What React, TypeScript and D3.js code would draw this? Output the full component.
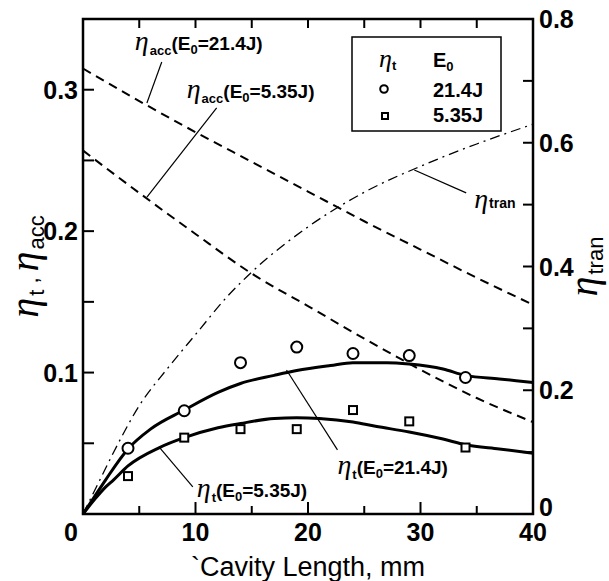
import React from 'react';
import * as d3 from 'd3';

const W = 609;
const H = 581;
const margin = { top: 19, right: 75, bottom: 67, left: 83 };

// measured points, eta_t
const circleX = [4, 9, 14, 19, 24, 29, 34];
const circleY = [0.0465, 0.073, 0.107, 0.118, 0.1135, 0.112, 0.0965];
const squareX = [4, 9, 14, 19, 24, 29, 34];
const squareY = [0.0268, 0.054, 0.06, 0.06, 0.0735, 0.0655, 0.047];

// fitted eta_t curves
const fitHiX = [0, 1, 2, 4, 6, 9, 12, 14, 17, 19, 22, 24, 27, 29, 32, 34, 37, 40];
const fitHiY = [0, 0.012, 0.024, 0.046, 0.06, 0.0735, 0.086, 0.0923, 0.098, 0.1014, 0.105, 0.107, 0.107, 0.106, 0.1025, 0.098, 0.0955, 0.093];
const fitLoX = [0, 1, 2, 2.7, 4, 6.8, 9, 12, 14, 17, 19, 21, 24, 26, 29, 32, 34, 37, 40];
const fitLoY = [0, 0.01, 0.019, 0.024, 0.034, 0.047, 0.054, 0.061, 0.064, 0.0675, 0.068, 0.0675, 0.065, 0.062, 0.058, 0.053, 0.049, 0.046, 0.043];

// eta_acc (dashed)
const accX = [0, 5, 10, 15, 20, 25, 30, 35, 40];
const accHiY = [0.315, 0.292, 0.27, 0.249, 0.228, 0.207, 0.187, 0.167, 0.148];
const accLoY = [0.257, 0.227, 0.198, 0.17, 0.147, 0.124, 0.102, 0.082, 0.065];

// eta_tran (right axis, dash-dot)
const tranX = [0, 1.2, 2.7, 5, 7.5, 10, 12.8, 15, 20, 25, 30, 35, 40];
const tranY = [0, 0.044, 0.099, 0.175, 0.235, 0.29, 0.351, 0.391, 0.464, 0.52, 0.562, 0.598, 0.63];

const xTicks = [0, 10, 20, 30, 40];
const xMinor = [5, 15, 25, 35];
const yLTicks = [0.1, 0.2, 0.3];
const yLMinor = [0.05, 0.15, 0.25];
const yRTicks = [0, 0.2, 0.4, 0.6, 0.8];
const yRMinor = [0.1, 0.3, 0.5, 0.7];

const sans = "'Liberation Sans', Arial, sans-serif";
const serif = "'Liberation Serif', 'Times New Roman', serif";

const zip = (xs: number[], ys: number[]) => xs.map((x, i) => [x, ys[i]] as [number, number]);

export default function App() {
  const x = d3.scaleLinear().domain([0, 40]).range([margin.left, W - margin.right - 1]);
  const yL = d3.scaleLinear().domain([0, 0.35]).range([H - margin.bottom, margin.top]);
  const yR = d3.scaleLinear().domain([0, 0.8]).range([H - margin.bottom, margin.top]);

  const lineL = d3.line<[number, number]>().x(d => x(d[0])).y(d => yL(d[1])).curve(d3.curveMonotoneX);
  const lineR = d3.line<[number, number]>().x(d => x(d[0])).y(d => yR(d[1])).curve(d3.curveMonotoneX);

  const x0 = x(0), x1 = x(40), y0 = yL(0), y1 = yL(0.35);

  // leader lines in data units [x, y, x, y], last flag = right axis
  const leaders: [number, number, number, number, boolean][] = [
    [7.0, 0.3196, 5.68, 0.2906, false],
    [11.88, 0.2871, 5.68, 0.2241, false],
    [29.45, 0.556, 34.06, 0.519, true],
    [18.09, 0.1018, 22.62, 0.0453, false],
    [6.83, 0.0467, 9.76, 0.0191, false],
  ];

  const annot = (px: number, py: number, sub: string, e: string, key: string) => (
    <text key={key} x={px} y={py} fontFamily={sans} fontSize={19} fontWeight={600}>
      <tspan fontFamily={serif} fontStyle="italic" fontWeight={400} fontSize={28}>η</tspan>
      <tspan fontSize={13} dy={5} dx={1}>{sub}</tspan>
      <tspan dy={-5}>(E</tspan>
      <tspan fontSize={13} dy={4}>0</tspan>
      <tspan dy={-4}>{e}</tspan>
    </text>
  );

  return (
    <svg width={W} height={H} style={{ position: 'absolute', left: 0, top: 0, background: '#fff' }}>
      <rect width={W} height={H} fill="#fff" />

      {/* curves */}
      <path d={lineL(zip(accX, accHiY)) || ''} fill="none" stroke="#000" strokeWidth={2} strokeDasharray="9,6" />
      <path d={lineL(zip(accX, accLoY)) || ''} fill="none" stroke="#000" strokeWidth={2} strokeDasharray="9,6" />
      <path d={lineR(zip(tranX, tranY)) || ''} fill="none" stroke="#000" strokeWidth={1.3} strokeDasharray="10,5,2,5" />
      <path d={lineL(zip(fitHiX, fitHiY)) || ''} fill="none" stroke="#000" strokeWidth={3} />
      <path d={lineL(zip(fitLoX, fitLoY)) || ''} fill="none" stroke="#000" strokeWidth={3} />

      {/* markers */}
      {circleX.map((cx, i) => (
        <circle key={'c' + i} cx={x(cx)} cy={yL(circleY[i])} r={5.5} fill="#fff" stroke="#000" strokeWidth={2} />
      ))}
      {squareX.map((sx, i) => (
        <rect key={'s' + i} x={x(sx) - 4} y={yL(squareY[i]) - 4} width={8} height={8} fill="#fff" stroke="#000" strokeWidth={2} />
      ))}

      {/* leaders */}
      {leaders.map(([ax, ay, bx, by, r], i) => {
        const ys = r ? yR : yL;
        return <line key={'l' + i} x1={x(ax)} y1={ys(ay)} x2={x(bx)} y2={ys(by)} stroke="#000" strokeWidth={1.2} />;
      })}

      {/* annotations */}
      {annot(x(4.61), yL(0.328), 'acc', '=21.4J)', 'a1')}
      {annot(x(9.22), yL(0.294), 'acc', '=5.35J)', 'a2')}
      {annot(x(22.62), yL(0.0283), 't', '=21.4J)', 'a3')}
      {annot(x(10.11), yL(0.012), 't', '=5.35J)', 'a4')}
      <text x={x(34.77)} y={yR(0.4945)} fontFamily={sans} fontWeight={600}>
        <tspan fontFamily={serif} fontStyle="italic" fontWeight={400} fontSize={28}>η</tspan>
        <tspan fontSize={14} dx={1}>tran</tspan>
      </text>

      {/* legend */}
      <rect x={352} y={37} width={149} height={94} fill="#fff" stroke="#000" strokeWidth={1.5} />
      <text x={379} y={67} fontFamily={sans} fontWeight={600}>
        <tspan fontFamily={serif} fontStyle="italic" fontWeight={400} fontSize={26}>η</tspan>
        <tspan fontSize={13} dy={3}>t</tspan>
      </text>
      <text x={433} y={67} fontFamily={sans} fontWeight={700} fontSize={20}>
        E<tspan fontSize={13} dy={4}>0</tspan>
      </text>
      <circle cx={384} cy={89} r={3.8} fill="#fff" stroke="#000" strokeWidth={2} />
      <text x={433} y={97} fontFamily={sans} fontWeight={700} fontSize={20}>21.4J</text>
      <rect x={382} y={113} width={6} height={6} fill="#fff" stroke="#000" strokeWidth={2} />
      <text x={433} y={122} fontFamily={sans} fontWeight={700} fontSize={20}>5.35J</text>

      {/* frame */}
      <rect x={x0} y={y1} width={x1 - x0} height={y0 - y1} fill="none" stroke="#000" strokeWidth={2.5} />

      {/* x ticks bottom + top */}
      {xTicks.slice(1, -1).map(t => (
        <line key={'xt' + t} x1={x(t)} x2={x(t)} y1={y0} y2={y0 - 12} stroke="#000" strokeWidth={2} />
      ))}
      {xMinor.map(t => (
        <line key={'xm' + t} x1={x(t)} x2={x(t)} y1={y0} y2={y0 - 8} stroke="#000" strokeWidth={2} />
      ))}
      {[...xMinor, ...xTicks.slice(1, -1)].map(t => (
        <line key={'xtop' + t} x1={x(t)} x2={x(t)} y1={y1} y2={y1 + 9} stroke="#000" strokeWidth={2} />
      ))}
      {xTicks.map(t => (
        <text key={'xl' + t} x={t === 0 ? x(t) - 5 : x(t)} y={y0 + 27} textAnchor={t === 0 ? 'end' : 'middle'}
          fontFamily={sans} fontWeight={700} fontSize={25}>{t}</text>
      ))}

      {/* left ticks */}
      {[...yLTicks, ...yLMinor].map(t => (
        <line key={'yl' + t} x1={x0} x2={x0 + 11} y1={yL(t)} y2={yL(t)} stroke="#000" strokeWidth={2} />
      ))}
      {yLTicks.map(t => (
        <text key={'yll' + t} x={x0 - 5} y={yL(t) + 9} textAnchor="end" fontFamily={sans} fontWeight={700} fontSize={25}>{t}</text>
      ))}

      {/* right ticks */}
      {[...yRTicks.slice(1, -1), ...yRMinor].map(t => (
        <line key={'yr' + t} x1={x1} x2={x1 - 10} y1={yR(t)} y2={yR(t)} stroke="#000" strokeWidth={2} />
      ))}
      {yRTicks.map(t => (
        <text key={'yrl' + t} x={x1 + 6} y={t === 0 ? yR(t) + 2 : yR(t) + 9} fontFamily={sans} fontWeight={700} fontSize={25}>{t}</text>
      ))}

      {/* axis titles */}
      <text x={(x0 + x1) / 2} y={576} textAnchor="middle" fontFamily={sans} fontSize={27}>`Cavity Length, mm</text>
      <text transform={`translate(38,${(y0 + y1) / 2}) rotate(-90)`} textAnchor="middle" fontFamily={sans} fontSize={22}>
        <tspan fontFamily={serif} fontStyle="italic" fontSize={40}>η</tspan>
        <tspan dy={6} dx={2}>t</tspan>
        <tspan dy={-6}>{' , '}</tspan>
        <tspan fontFamily={serif} fontStyle="italic" fontSize={40}>η</tspan>
        <tspan dy={6} dx={2}>acc</tspan>
      </text>
      <text transform={`translate(597,${(y0 + y1) / 2}) rotate(-90)`} textAnchor="middle" fontFamily={sans} fontSize={22}>
        <tspan fontFamily={serif} fontStyle="italic" fontSize={40}>η</tspan>
        <tspan dy={6} dx={2}>tran</tspan>
      </text>
    </svg>
  );
}
